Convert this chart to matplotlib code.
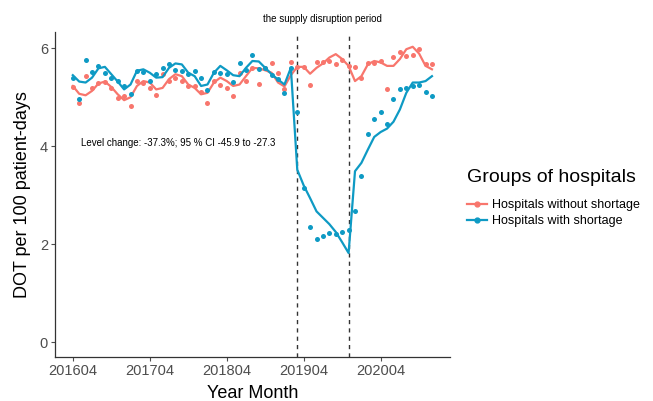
import numpy as np
import matplotlib
matplotlib.use("Agg")
import matplotlib.pyplot as plt
from matplotlib.lines import Line2D

plt.rcParams['font.family'] = ['Liberation Sans', 'DejaVu Sans']

# months 201604 .. 202012 (57 months), x positions are month index
months = [f"{y}{m:02d}" for y in range(2016, 2021) for m in range(1, 13)][3:]
tick_labels = ['201604', '201704', '201804', '201904', '202004']
disruption = ['201903', '201911']

without_obs = [5.21, 4.89, 5.43, 5.19, 5.30, 5.32, 5.18, 4.99, 5.02, 4.82,
               5.33, 5.30, 5.18, 5.04, 5.47, 5.33, 5.40, 5.34, 5.23, 5.23,
               5.11, 4.89, 5.33, 5.26, 5.18, 5.02, 5.50, 5.34, 5.60, 5.28,
               5.59, 5.69, 5.50, 5.16, 5.72, 5.62, 5.62, 5.26, 5.71, 5.71,
               5.74, 5.67, 5.75, 5.64, 5.62, 5.39, 5.69, 5.69, 5.73, 5.16,
               5.83, 5.93, 5.84, 5.86, 5.98, 5.67, 5.67]
without_fit = [5.23, 5.07, 5.04, 5.13, 5.28, 5.32, 5.21, 5.06, 4.94, 5.00,
               5.23, 5.33, 5.30, 5.16, 5.19, 5.37, 5.47, 5.43, 5.26, 5.19,
               5.06, 5.09, 5.30, 5.40, 5.33, 5.23, 5.26, 5.43, 5.60, 5.59,
               5.55, 5.50, 5.30, 5.22, 5.45, 5.62, 5.62, 5.48, 5.60, 5.69,
               5.81, 5.88, 5.78, 5.64, 5.33, 5.43, 5.67, 5.74, 5.71, 5.64,
               5.64, 5.78, 5.98, 6.03, 5.89, 5.64, 5.57]
with_obs = [5.40, 4.96, 5.77, 5.52, 5.64, 5.50, 5.39, 5.34, 5.23, 5.07,
            5.54, 5.52, 5.33, 5.47, 5.59, 5.67, 5.56, 5.54, 5.47, 5.54,
            5.40, 5.14, 5.52, 5.50, 5.47, 5.32, 5.69, 5.56, 5.86, 5.57,
            5.60, 5.45, 5.38, 5.09, 5.60, 4.70, 3.15, 2.35, 2.11, 2.16,
            2.22, 2.21, 2.24, 2.30, 2.67, 3.40, 4.24, 4.55, 4.70, 4.46,
            4.96, 5.16, 5.18, 5.23, 5.26, 5.11, 5.02]
with_fit = [5.45, 5.32, 5.30, 5.40, 5.59, 5.62, 5.47, 5.32, 5.16, 5.26,
            5.54, 5.57, 5.50, 5.40, 5.41, 5.60, 5.69, 5.67, 5.50, 5.43,
            5.23, 5.26, 5.50, 5.64, 5.55, 5.45, 5.43, 5.60, 5.74, 5.73,
            5.60, 5.47, 5.36, 5.26, 5.60, 3.52, 3.20, 2.94, 2.67, 2.54,
            2.41, 2.25, 2.04, 1.82, 3.49, 3.66, 3.93, 4.19, 4.29, 4.36,
            4.50, 4.75, 5.09, 5.30, 5.30, 5.33, 5.43]

pink = '#F8766D'
blue = '#0E9AC4'

x = np.arange(len(months))

fig = plt.figure(figsize=(6.53, 4.01), dpi=100)
ax = fig.add_axes([0.084, 0.110, 0.605, 0.810])

ax.scatter(x, without_obs, s=13, color=pink, zorder=3, linewidths=0)
ax.plot(x, without_fit, color=pink, lw=1.6, zorder=3)
ax.scatter(x, with_obs, s=13, color=blue, zorder=4, linewidths=0)
ax.plot(x, with_fit, color=blue, lw=1.6, zorder=4)

for d in disruption:
    ax.axvline(months.index(d), color='#333333', ls=(0, (3, 3)), lw=1, zorder=2)

mid = (months.index(disruption[0]) + months.index(disruption[1])) / 2
ax.text(mid, 6.6, 'the supply disruption period', ha='center', va='center',
        fontsize=7, clip_on=False)
ax.text(16.4, 4.07, 'Level change: -37.3%; 95 % CI -45.9 to -27.3',
        ha='center', va='center', fontsize=7)

ax.set_xlim(-2.8, 58.8)
ax.set_ylim(-0.3, 6.33)
ax.set_xticks([months.index(t) for t in tick_labels])
ax.set_xticklabels(tick_labels)
ax.set_yticks([0, 2, 4, 6])
ax.tick_params(colors='#4d4d4d', labelsize=10.5, length=3, width=0.8, pad=2)
for s in ['top', 'right']:
    ax.spines[s].set_visible(False)
for s in ['left', 'bottom']:
    ax.spines[s].set_color('#333333')
    ax.spines[s].set_linewidth(0.9)
ax.set_xlabel('Year Month', fontsize=13, labelpad=5)
ax.set_ylabel('DOT per 100 patient-days', fontsize=13, labelpad=6)

handles = [Line2D([], [], color=pink, lw=1.6, marker='o', markersize=3.5),
           Line2D([], [], color=blue, lw=1.6, marker='o', markersize=3.5)]
leg = fig.legend(handles, ['Hospitals without shortage', 'Hospitals with shortage'],
                 title='Groups of hospitals', loc='upper left',
                 bbox_to_anchor=(0.708, 0.590), frameon=False, fontsize=9,
                 title_fontsize=14, handlelength=1.6, handletextpad=0.35,
                 labelspacing=0.35, borderaxespad=0)
leg._legend_box.align = 'left'
leg._legend_box.sep = 9

fig.savefig('out.png', dpi=100)
